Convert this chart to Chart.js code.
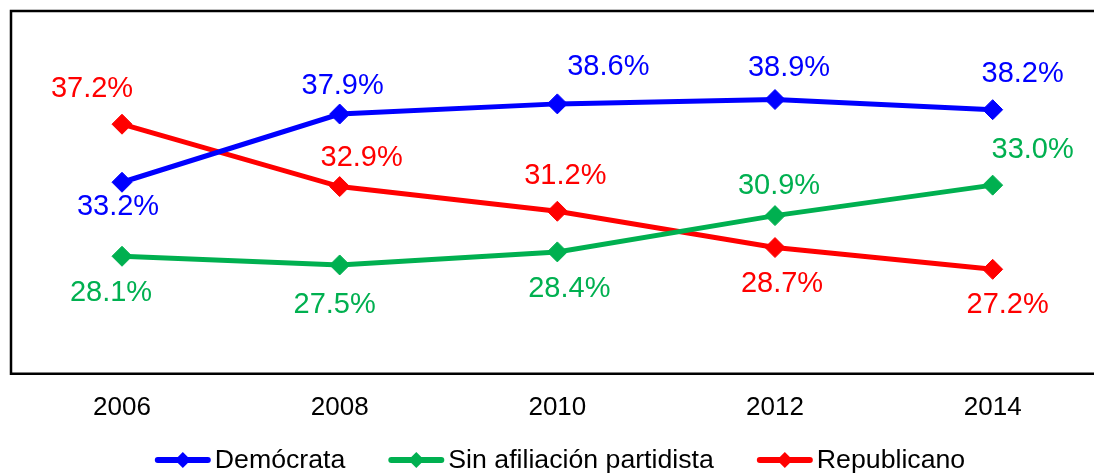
<!DOCTYPE html>
<html>
<head>
<meta charset="utf-8">
<script src="https://cdn.jsdelivr.net/npm/chart.js@4/dist/chart.umd.min.js"></script>
<style>
  html, body { margin: 0; padding: 0; background: #fff; }
  #wrap { width: 1094px; height: 474px; }
</style>
</head>
<body>
<div id="wrap"><canvas id="c"></canvas></div>
<script>
const years = [2006, 2008, 2010, 2012, 2014];
const democrata = [33.2, 37.9, 38.6, 38.9, 38.2];
const sinAfiliacion = [28.1, 27.5, 28.4, 30.9, 33.0];
const republicano = [37.2, 32.9, 31.2, 28.7, 27.2];

// where each value label sits relative to its point (px)
const labelOffsets = [
  [[-4, 25], [3, -28], [51, -37], [14, -32], [30, -36]],
  [[-11, 37], [-5, 40], [12, 37], [4, -30], [40, -35]],
  [[-30, -35], [22, -29], [8, -35], [7, 36], [15, 36]],
];

const FONT = "'Liberation Sans', Arial, sans-serif";

function series(label, values, color) {
  return {
    label,
    data: values.map((v, i) => ({ x: years[i], y: v })),
    borderColor: color,
    backgroundColor: color,
    borderWidth: 5,
    pointStyle: "rectRot",
    pointRadius: 10,
    pointBorderWidth: 1,
    tension: 0,
  };
}

const frame = {
  id: "frame",
  beforeDatasetsDraw(chart) {
    const { ctx, chartArea: a } = chart;
    ctx.save();
    ctx.strokeStyle = "#000";
    ctx.lineWidth = 2.5;
    ctx.beginPath();
    ctx.moveTo(a.right + 20, a.top);
    ctx.lineTo(a.left, a.top);
    ctx.lineTo(a.left, a.bottom);
    ctx.lineTo(a.right + 20, a.bottom);
    ctx.stroke();
    ctx.restore();
  },
};

const valueLabels = {
  id: "valueLabels",
  afterDatasetsDraw(chart) {
    const ctx = chart.ctx;
    ctx.save();
    ctx.font = "29px " + FONT;
    ctx.textAlign = "center";
    ctx.textBaseline = "middle";
    chart.data.datasets.forEach((ds, di) => {
      ctx.fillStyle = ds.borderColor;
      chart.getDatasetMeta(di).data.forEach((pt, i) => {
        const off = labelOffsets[di][i];
        ctx.fillText(ds.data[i].y.toFixed(1) + "%", pt.x + off[0], pt.y + off[1]);
      });
    });
    ctx.restore();
  },
};

const lineLegend = {
  id: "lineLegend",
  afterDraw(chart) {
    const ctx = chart.ctx;
    const y = 460, lineLen = 56, gap = 4, itemGap = 43;
    ctx.save();
    ctx.font = "26.7px " + FONT;
    ctx.textBaseline = "middle";
    const items = chart.data.datasets.map((ds) => ({
      ds, w: lineLen + gap + ctx.measureText(ds.label).width,
    }));
    const total = items.reduce((s, it) => s + it.w, 0) + itemGap * (items.length - 1);
    let x = 560 - total / 2;
    items.forEach(({ ds, w }) => {
      ctx.strokeStyle = ds.borderColor;
      ctx.lineWidth = 6;
      ctx.lineCap = "round";
      ctx.beginPath();
      ctx.moveTo(x + 3, y);
      ctx.lineTo(x + lineLen - 3, y);
      ctx.stroke();
      const cx = x + lineLen / 2, r = 8;
      ctx.fillStyle = ds.borderColor;
      ctx.beginPath();
      ctx.moveTo(cx, y - r);
      ctx.lineTo(cx + r, y);
      ctx.lineTo(cx, y + r);
      ctx.lineTo(cx - r, y);
      ctx.closePath();
      ctx.fill();
      ctx.fillStyle = "#000";
      ctx.fillText(ds.label, x + lineLen + gap, y + 1);
      x += w + itemGap;
    });
    ctx.restore();
  },
};

new Chart(document.getElementById("c"), {
  type: "line",
  data: {
    datasets: [
      series("Demócrata", democrata, "#0000FF"),
      series("Sin afiliación partidista", sinAfiliacion, "#00B050"),
      series("Republicano", republicano, "#FF0000"),
    ],
  },
  options: {
    responsive: true,
    maintainAspectRatio: false,
    animation: false,
    layout: { padding: { left: 8, right: 0, top: 11, bottom: 33 } },
    plugins: {
      legend: { display: false },
      tooltip: { enabled: false },
    },
    scales: {
      x: {
        type: "linear",
        min: 2004.98,
        max: 2014.83,
        afterBuildTicks: (scale) => {
          scale.ticks = years.map((v) => ({ value: v }));
        },
        ticks: {
          color: "#000",
          font: { family: FONT, size: 26 },
          padding: 18,
          maxRotation: 0,
          autoSkip: false,
          callback: (v) => String(v),
        },
        grid: { display: false, drawTicks: false },
        border: { display: false },
      },
      y: {
        display: false,
        min: 20,
        max: 45,
      },
    },
  },
  plugins: [frame, valueLabels, lineLegend],
});
</script>
</body>
</html>
